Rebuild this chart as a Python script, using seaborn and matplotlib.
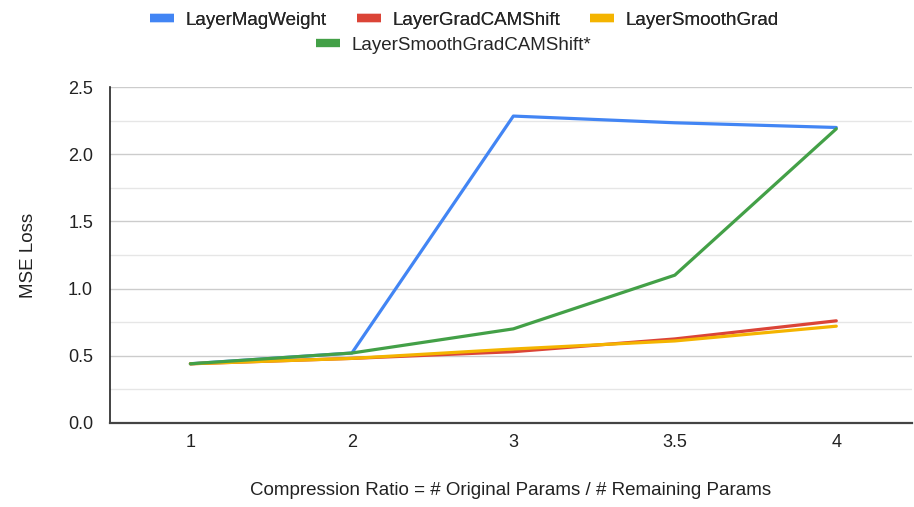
import matplotlib
matplotlib.use('Agg')
import matplotlib.pyplot as plt
from matplotlib.lines import Line2D
from matplotlib.ticker import MultipleLocator
import pandas as pd
import seaborn as sns

ratios = ['1', '2', '3', '3.5', '4']
methods = ['LayerMagWeight', 'LayerGradCAMShift', 'LayerSmoothGrad', 'LayerSmoothGradCAMShift*']
mag_weight = [0.44, 0.52, 2.285, 2.235, 2.20]
gradcam_shift = [0.44, 0.48, 0.53, 0.625, 0.76]
smooth_grad = [0.44, 0.48, 0.55, 0.61, 0.72]
smooth_gradcam_shift = [0.44, 0.52, 0.70, 1.10, 2.19]
colors = ['#4285F4', '#DB4437', '#F4B400', '#43A047']

series = [mag_weight, gradcam_shift, smooth_grad, smooth_gradcam_shift]
rows = []
for name, vals in zip(methods, series):
    for r, v in zip(ratios, vals):
        rows.append({'ratio': r, 'mse': v, 'method': name})
df = pd.DataFrame(rows)

sns.set_style('white')
plt.rcParams['font.family'] = ['Liberation Sans', 'DejaVu Sans']

fig = plt.figure(figsize=(9.14, 5.07), dpi=100)
ax = fig.add_axes([0.120, 0.166, 0.878, 0.662])

sns.lineplot(data=df, x='ratio', y='mse', hue='method', hue_order=methods,
             palette=colors, sort=False, linewidth=2.3, ax=ax, legend=False)

ax.set_xlim(-0.5, 4.47)
ax.set_ylim(0, 2.5)
ax.yaxis.set_major_locator(MultipleLocator(0.5))
ax.yaxis.set_minor_locator(MultipleLocator(0.25))
ax.set_yticklabels([f'{v:.1f}' for v in ax.get_yticks()])
ax.grid(True, which='major', axis='y', color='#cccccc', linewidth=1)
ax.grid(True, which='minor', axis='y', color='#e6e6e6', linewidth=1)
ax.set_axisbelow(True)

for s in ['top', 'right']:
    ax.spines[s].set_visible(False)
ax.spines['left'].set_color('#222222')
ax.spines['left'].set_linewidth(1.2)
ax.spines['bottom'].set_color('#444444')
ax.spines['bottom'].set_linewidth(1.6)

ax.tick_params(axis='y', which='major', direction='inout', length=14, width=1.2,
               color='#222222', labelsize=13, labelcolor='#222222', pad=5)
ax.tick_params(axis='y', which='minor', direction='in', length=6, width=1.2, color='#222222')
ax.tick_params(axis='x', length=0, labelsize=13, labelcolor='#222222', pad=8)

ax.set_xlabel('Compression Ratio = # Original Params / # Remaining Params',
              fontsize=13.5, color='#222222', labelpad=22)
ax.set_ylabel('MSE Loss', fontsize=13.5, color='#222222', labelpad=22)

handles = [Line2D([0], [0], color=c, linewidth=6, solid_capstyle='butt') for c in colors]
leg1 = fig.legend(handles[:3], methods[:3], loc='center', bbox_to_anchor=(0.508, 0.96),
                  ncol=3, frameon=False, fontsize=13.5, handlelength=1.3,
                  columnspacing=1.6, handletextpad=0.6)
fig.legend(handles[3:], methods[3:], loc='center', bbox_to_anchor=(0.496, 0.911),
           ncol=1, frameon=False, fontsize=13.5, handlelength=1.3, handletextpad=0.6)
fig.add_artist(leg1)

fig.savefig('out.png', dpi=100)
